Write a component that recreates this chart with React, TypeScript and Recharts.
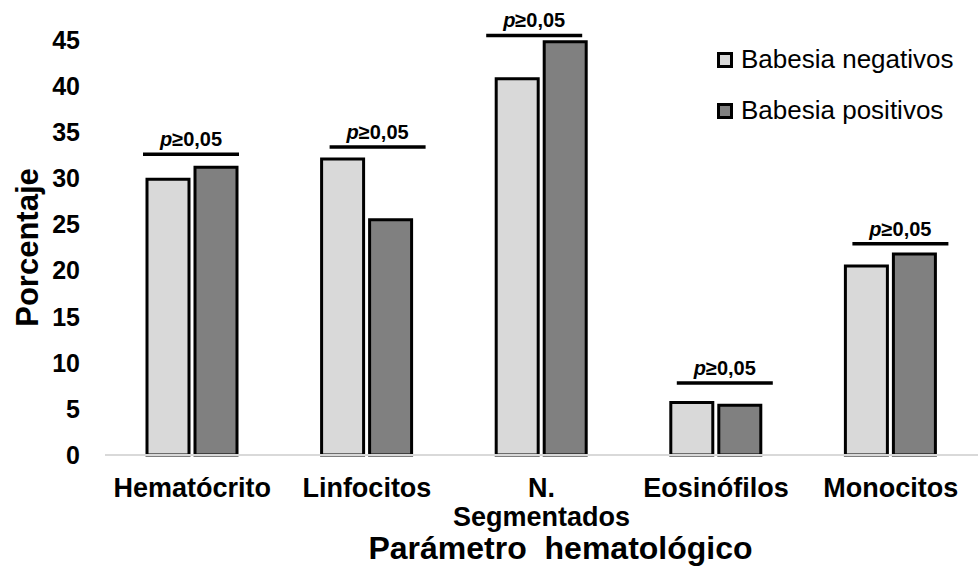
import React from "react";
import { BarChart, Bar, XAxis, YAxis, Legend, LabelList } from "recharts";

const categories = ["Hematócrito", "Linfocitos", "N. Segmentados", "Eosinófilos", "Monocitos"];
const negativos = [29.9, 32.1, 40.8, 5.7, 20.5];
const positivos = [31.2, 25.5, 44.8, 5.4, 21.8];
// height (in %) of the significance bracket over each group
const sigLevels = [32.6, 33.4, 45.5, 7.8, 22.9];
const sigText = "≥0,05";
const yTicks = [0, 5, 10, 15, 20, 25, 30, 35, 40, 45];

const data = categories.map((name, i) => ({
  name,
  neg: negativos[i],
  pos: positivos[i],
}));

const FONT = "'Liberation Sans', Arial, sans-serif";
const NEG_COLOR = "#d9d9d9";
const POS_COLOR = "#808080";
const BAR_GAP = 6;
// brackets were placed by hand in the original, a bit off-centre
const sigShift = [0, 12, -6, 10, 11];

const XTick = (props: any) => {
  const { x, y, payload } = props;
  const words = String(payload.value).split(" ");
  return (
    <text
      x={x}
      y={y + 42}
      textAnchor="middle"
      fontFamily={FONT}
      fontWeight="bold"
      fontSize={27}
      fill="#000"
    >
      {words.map((w, i) => (
        <tspan key={i} x={x} dy={i === 0 ? 0 : 29}>
          {w}
        </tspan>
      ))}
    </text>
  );
};

const SigMark = (props: any) => {
  const { x, y, width, height, index } = props;
  const base = y + height;
  const perUnit = height / positivos[index];
  const ly = base - sigLevels[index] * perUnit;
  const left = x - width - BAR_GAP - 4 + sigShift[index];
  const right = x + width + 2 + sigShift[index];
  const cx = (left + right) / 2;
  return (
    <g>
      <line x1={left} x2={right} y1={ly} y2={ly} stroke="#000" strokeWidth={3.5} />
      <text
        x={cx}
        y={ly - 8}
        textAnchor="middle"
        fontFamily={FONT}
        fontWeight="bold"
        fontSize={20}
        fill="#000"
      >
        <tspan fontStyle="italic">p</tspan>
        {sigText}
      </text>
    </g>
  );
};

const LegendBox = () => {
  const items = [
    { label: "Babesia negativos", color: NEG_COLOR },
    { label: "Babesia positivos", color: POS_COLOR },
  ];
  return (
    <div style={{ fontFamily: FONT, fontSize: 26, color: "#000" }}>
      {items.map((it) => (
        <div
          key={it.label}
          style={{ display: "flex", alignItems: "center", height: 51 }}
        >
          <span
            style={{
              display: "inline-block",
              width: 10,
              height: 10,
              border: "3px solid #000",
              background: it.color,
              marginRight: 8,
            }}
          />
          {it.label}
        </div>
      ))}
    </div>
  );
};

export default function App() {
  return (
    <div style={{ position: "absolute", left: 0, top: 0, background: "#fff" }}>
      <BarChart
        width={980}
        height={577}
        data={data}
        margin={{ top: 40, right: 2, bottom: 0, left: 0 }}
        barSize={42}
        barGap={BAR_GAP}
      >
        <XAxis
          dataKey="name"
          interval={0}
          tickLine={false}
          tickSize={0}
          tickMargin={0}
          axisLine={{ stroke: "#d9d9d9", strokeWidth: 2 }}
          tick={<XTick />}
          height={122}
          label={{
            content: (p: any) => {
              const vb = p.viewBox;
              return (
                <text
                  x={vb.x + vb.width / 2 + 19}
                  y={559}
                  textAnchor="middle"
                  fontFamily={FONT}
                  fontWeight="bold"
                  fontSize={32}
                  fill="#000"
                >
                  Parámetro{"\u00a0 "}hematológico
                </text>
              );
            },
          }}
        />
        <YAxis
          domain={[0, 45]}
          ticks={yTicks}
          interval={0}
          width={105}
          axisLine={false}
          tickLine={false}
          tickSize={0}
          tickMargin={25}
          tick={{ fontFamily: FONT, fontWeight: "bold", fontSize: 25, fill: "#000" }}
          label={{
            content: (p: any) => {
              const vb = p.viewBox;
              const cx = 38;
              const cy = vb.y + vb.height / 2;
              return (
                <text
                  x={cx}
                  y={cy}
                  textAnchor="middle"
                  transform={`rotate(-90, ${cx}, ${cy})`}
                  fontFamily={FONT}
                  fontWeight="bold"
                  fontSize={31}
                  fill="#000"
                >
                  Porcentaje
                </text>
              );
            },
          }}
        />
        <Legend
          content={<LegendBox />}
          layout="horizontal"
          verticalAlign="middle"
          align="center"
          wrapperStyle={{ position: "absolute", top: 34, left: 717, width: 262 }}
        />
        <Bar
          dataKey="neg"
          name="Babesia negativos"
          fill={NEG_COLOR}
          stroke="#000"
          strokeWidth={3}
          isAnimationActive={false}
        />
        <Bar
          dataKey="pos"
          name="Babesia positivos"
          fill={POS_COLOR}
          stroke="#000"
          strokeWidth={3}
          isAnimationActive={false}
        >
          <LabelList dataKey="pos" content={<SigMark />} />
        </Bar>
      </BarChart>
    </div>
  );
}
